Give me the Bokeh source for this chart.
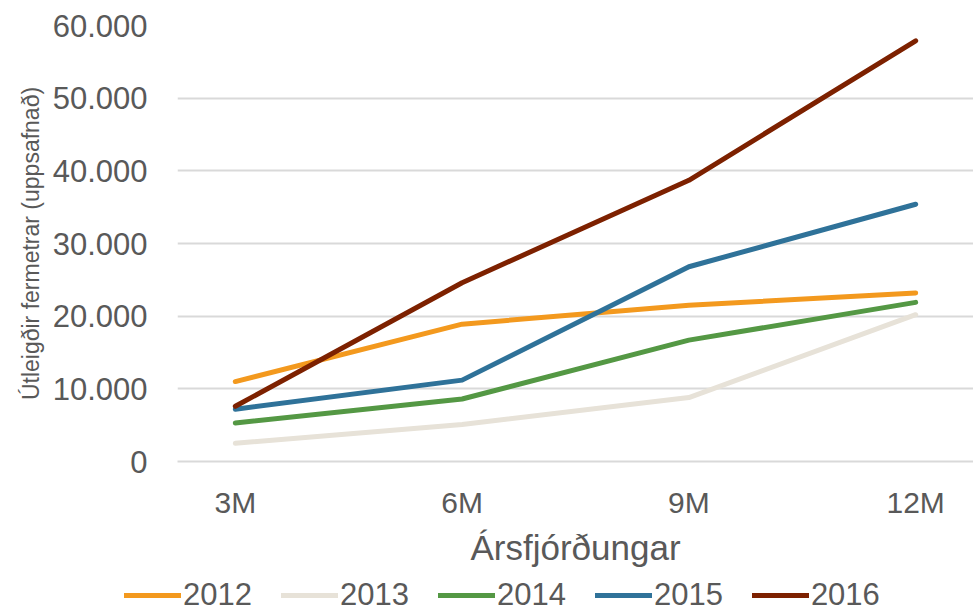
from bokeh.plotting import figure
from bokeh.models import Legend, LegendItem, FixedTicker, Range1d
from bokeh.layouts import column
from bokeh.embed import file_html
from bokeh.resources import INLINE

quarters = ["3M", "6M", "9M", "12M"]
years = ["2012", "2013", "2014", "2015", "2016"]
s2012 = [11000, 18900, 21500, 23200]
s2013 = [2500, 5100, 8800, 20200]
s2014 = [5300, 8600, 16700, 21900]
s2015 = [7200, 11200, 26800, 35400]
s2016 = [7600, 24600, 38700, 57900]
series = [s2012, s2013, s2014, s2015, s2016]
colors = ["#F3991E", "#E7E2D8", "#549844", "#2F7299", "#7D2100"]
y_ticks = [0, 10000, 20000, 30000, 40000, 50000, 60000]
y_labels = ["0", "10.000", "20.000", "30.000", "40.000", "50.000", "60.000"]

FONT = "Liberation Sans"
GREY = "#595959"
LW = 5

xpos = list(range(len(quarters)))

p = figure(width=973, height=570, output_backend="svg", toolbar_location=None,
           x_range=Range1d(-0.255, 3.255), y_range=Range1d(0, 60000),
           min_border_left=177, min_border_right=0, min_border_top=25,
           min_border_bottom=109, frame_align=False)
p.outline_line_color = None
p.background_fill_color = "white"
p.border_fill_color = "white"

p.xgrid.grid_line_color = None
p.ygrid.grid_line_color = "#D9D9D9"
p.ygrid.grid_line_width = 2
p.ygrid.ticker = FixedTicker(ticks=y_ticks)

p.yaxis.ticker = FixedTicker(ticks=y_ticks)
p.yaxis.major_label_overrides = {t: l for t, l in zip(y_ticks, y_labels)}
p.yaxis.axis_line_color = None
p.yaxis.major_tick_line_color = None
p.yaxis.minor_tick_line_color = None
p.yaxis.major_label_text_font = FONT
p.yaxis.major_label_text_font_size = "31px"
p.yaxis.major_label_text_color = GREY
p.yaxis.major_label_standoff = 24
p.yaxis.axis_label = "Útleigðir fermetrar (uppsafnað)"
p.yaxis.axis_label_text_font = FONT
p.yaxis.axis_label_text_font_size = "23px"
p.yaxis.axis_label_text_font_style = "normal"
p.yaxis.axis_label_text_color = GREY
p.yaxis.axis_label_standoff = 6

p.xaxis.ticker = FixedTicker(ticks=xpos)
p.xaxis.major_label_overrides = {i: q for i, q in zip(xpos, quarters)}
p.xaxis.axis_line_color = "#D9D9D9"
p.xaxis.axis_line_width = 2
p.xaxis.major_tick_line_color = None
p.xaxis.minor_tick_line_color = None
p.xaxis.major_label_text_font = FONT
p.xaxis.major_label_text_font_size = "30px"
p.xaxis.major_label_text_color = GREY
p.xaxis.major_label_standoff = 18
p.xaxis.axis_label = "Ársfjórðungar"
p.xaxis.axis_label_text_font = FONT
p.xaxis.axis_label_text_font_size = "35px"
p.xaxis.axis_label_text_font_style = "normal"
p.xaxis.axis_label_text_color = GREY
p.xaxis.axis_label_standoff = 6

for vals, col in zip(series, colors):
    p.line(xpos, vals, line_color=col, line_width=LW,
           line_cap="round", line_join="round")

# legend strip below the chart (its renderers sit outside the visible range)
lg = figure(width=973, height=40, output_backend="svg", toolbar_location=None,
            x_range=Range1d(0, 1), y_range=Range1d(0, 1),
            x_axis_location=None, y_axis_location=None,
            min_border=0, frame_align=False)
lg.outline_line_color = None
lg.xgrid.visible = False
lg.ygrid.visible = False
items = []
for yr, col in zip(years, colors):
    r = lg.line([5, 6], [5, 6], line_color=col, line_width=LW, line_cap="round")
    items.append(LegendItem(label=yr, renderers=[r]))

legend = Legend(items=items, orientation="horizontal", location=(124, -3),
                glyph_width=57, glyph_height=26, label_standoff=2, spacing=29,
                padding=0, margin=0, border_line_alpha=0,
                background_fill_alpha=0,
                label_text_font=FONT, label_text_font_size="31px",
                label_text_color=GREY, label_height=26)
lg.add_layout(legend, "center")

layout = column(p, lg, spacing=0)
open("out.html", "w").write(file_html(layout, INLINE))
